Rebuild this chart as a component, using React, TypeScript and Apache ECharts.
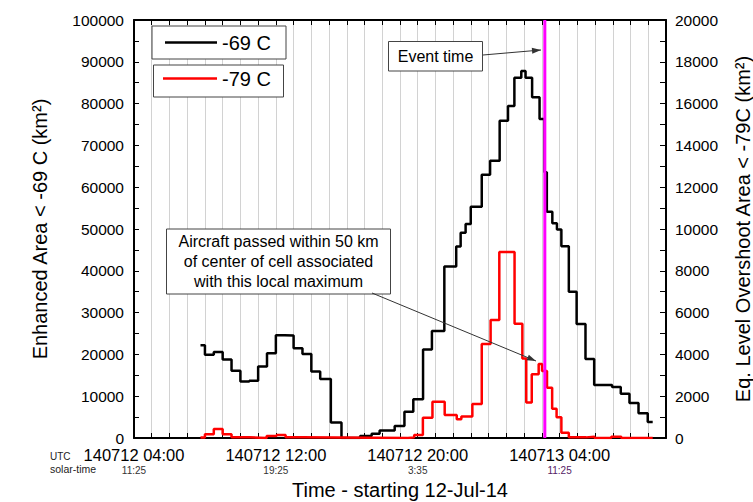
import React, { useEffect, useRef } from "react";
import * as echarts from "echarts";

// ---- data (time in hours since 12-Jul-14 00:00 UTC) ----
const X_MIN = 4;
const X_MAX = 34;
const LABEL_HOURS = [4, 12, 20, 28];
const UTC_LABELS = ["140712 04:00", "140712 12:00", "140712 20:00", "140713 04:00"];
const SOLAR_LABELS = ["11:25", "19:25", "3:35", "11:25"];

const SERIES_NAMES = ["-69 C", "-79 C"];

const BLACK_TIMES = [
  7.75, 8.0, 8.5, 9.0, 9.5, 10.0, 10.5, 11.0, 11.5, 12.0, 12.5, 13.0, 13.5, 14.0, 14.5,
  15.1, 15.7, 16.75, 17.4, 17.85, 18.7, 19.25, 19.75, 20.3, 20.8, 21.5, 22.17, 22.42, 22.7,
  22.99, 23.61, 24.08, 24.62, 25.09, 25.45, 25.84, 26.08, 26.45, 26.87, 27.15, 27.28, 27.59,
  27.85, 28.1, 28.52, 28.96, 29.46, 29.95, 30.96, 31.45, 31.94, 32.45, 32.97, 33.25,
];
const BLACK_VALUES = [
  22200, 19900, 20600, 18800, 16100, 13500, 13700, 17100, 20300, 24600, 24500, 21500, 20100, 15900, 14100,
  3700, 0, 500, 1000, 1800, 2900, 6300, 9300, 21200, 25600, 41000, 45800, 49100, 51200,
  55300, 63000, 66300, 75900, 79400, 86200, 87800, 86200, 81500, 76300, 63600, 54100, 51400,
  49900, 45900, 35000, 27300, 18900, 12700, 12200, 10600, 8400, 5900, 3800, 3800,
];

const RED_TIMES = [
  7.75, 8.0, 8.5, 9.0, 9.5, 10.5, 11.48, 12.04, 12.55, 13.45, 19.45, 19.8, 20.29, 20.83,
  21.52, 22.2, 22.46, 23.08, 23.61, 24.11, 24.6, 25.46, 25.9, 26.12, 26.43, 26.82, 27.01,
  27.29, 27.58, 27.83, 28.1, 28.52, 29.5, 29.97, 30.91, 31.48, 33.25,
];
const RED_VALUES = [
  20, 180, 430, 180, 30, 0, 100, 140, 30, 0, 30, 140, 970, 1740,
  1100, 900, 1030, 1630, 4500, 5650, 8900, 5470, 3800, 1700, 3050, 3540, 3200,
  2400, 1400, 990, 250, 30, 60, 0, 60, 0, 0,
];

const EVENT_TIME = 27.167;

const Y_LEFT = { min: 0, max: 100000, interval: 10000 };
const Y_RIGHT = { min: 0, max: 20000, interval: 2000 };

const FONT = "'Liberation Sans', Arial, Helvetica, sans-serif";

function arrowHead(x1: number, y1: number, x2: number, y2: number, len = 9, half = 3) {
  const dx = x2 - x1;
  const dy = y2 - y1;
  const d = Math.sqrt(dx * dx + dy * dy);
  const ux = dx / d;
  const uy = dy / d;
  const bx = x2 - ux * len;
  const by = y2 - uy * len;
  return [
    [x2, y2],
    [bx - uy * half, by + ux * half],
    [bx + uy * half, by - ux * half],
  ];
}

function txt(x: number, y: number, text: string, size: number, opts: any = {}) {
  const align = opts.align || "left";
  return {
    type: "text",
    x,
    y,
    z: 20,
    style: {
      text,
      fontSize: size,
      fontFamily: FONT,
      fill: opts.fill || "#000",
      align,
      textAlign: align,
      verticalAlign: "middle",
      textVerticalAlign: "middle",
      lineHeight: opts.lineHeight,
    },
  };
}

export default function App() {
  const ref = useRef<HTMLDivElement>(null);

  useEffect(() => {
    if (!ref.current) return;
    const chart = echarts.init(ref.current, undefined, { renderer: "svg" });

    const black = BLACK_TIMES.map((t, i) => [t, BLACK_VALUES[i]]);
    const red = RED_TIMES.map((t, i) => [t, RED_VALUES[i]]);

    const evA = [483, 55];
    const evB = [541, 50];
    const acA = [372, 293];
    const acB = [536, 361];

    const option: any = {
      animation: false,
      backgroundColor: "#fff",
      grid: { left: 134, right: 87, top: 20, bottom: 64, containLabel: false, outerBoundsMode: "none" },
      xAxis: [
        {
          type: "value",
          min: X_MIN,
          max: X_MAX,
          interval: 1,
          position: "bottom",
          name: "Time - starting 12-Jul-14",
          nameLocation: "middle",
          nameGap: 42,
          nameTextStyle: { fontSize: 20, fontFamily: FONT, color: "#000" },
          axisLine: { show: true, onZero: false, lineStyle: { color: "#000", width: 2 } },
          axisTick: { show: true, inside: true, length: 5, lineStyle: { color: "#000", width: 1 } },
          splitLine: { show: true, lineStyle: { color: "#d2d2d2", width: 1 } },
          axisLabel: {
            show: true,
            margin: 7,
            formatter: (v: number) => {
              const i = LABEL_HOURS.findIndex((h) => Math.abs(h - v) < 1e-6);
              if (i < 0) return "";
              return `{u|${UTC_LABELS[i]}}\n{${i === 3 ? "p" : "s"}|${SOLAR_LABELS[i]}}`;
            },
            rich: {
              u: { fontSize: 16.5, fontFamily: FONT, color: "#000", lineHeight: 19 },
              s: { fontSize: 10, fontFamily: FONT, color: "#333", lineHeight: 12 },
              p: { fontSize: 10, fontFamily: FONT, color: "#552266", lineHeight: 12 },
            },
          },
        },
        {
          type: "value",
          min: X_MIN,
          max: X_MAX,
          interval: 1,
          position: "top",
          axisLine: { show: true, onZero: false, lineStyle: { color: "#000", width: 2 } },
          axisTick: { show: true, inside: true, length: 5, lineStyle: { color: "#000", width: 1 } },
          splitLine: { show: false },
          axisLabel: { show: false },
        },
      ],
      yAxis: [
        {
          type: "value",
          position: "left",
          min: Y_LEFT.min,
          max: Y_LEFT.max,
          interval: Y_LEFT.interval,
          name: "Enhanced Area < -69 C (km²)",
          nameLocation: "middle",
          nameRotate: 90,
          nameGap: 84,
          nameTextStyle: { fontSize: 20, fontFamily: FONT, color: "#000" },
          axisLine: { show: true, onZero: false, lineStyle: { color: "#000", width: 2 } },
          axisTick: { show: true, inside: true, length: 5, lineStyle: { color: "#000", width: 1 } },
          minorTick: { show: true, splitNumber: 2, length: 5, lineStyle: { color: "#000", width: 1 } },
          splitLine: { show: false },
          axisLabel: { fontSize: 15.5, fontFamily: FONT, color: "#000", margin: 10, formatter: (v: number) => String(v) },
        },
        {
          type: "value",
          position: "right",
          min: Y_RIGHT.min,
          max: Y_RIGHT.max,
          interval: Y_RIGHT.interval,
          name: "Eq. Level Overshoot Area < -79C (km²)",
          nameLocation: "middle",
          nameRotate: 90,
          nameGap: 67,
          nameTextStyle: { fontSize: 20, fontFamily: FONT, color: "#000" },
          axisLine: { show: true, onZero: false, lineStyle: { color: "#000", width: 2 } },
          axisTick: { show: true, inside: true, length: 6, lineStyle: { color: "#000", width: 1 } },
          minorTick: { show: true, splitNumber: 2, length: 6, lineStyle: { color: "#000", width: 1 } },
          splitLine: { show: false },
          axisLabel: { fontSize: 15.5, fontFamily: FONT, color: "#000", margin: 9, formatter: (v: number) => String(v) },
        },
      ],
      series: [
        {
          name: SERIES_NAMES[0],
          type: "line",
          xAxisIndex: 0,
          yAxisIndex: 0,
          step: "end",
          showSymbol: false,
          symbol: "none",
          data: black,
          lineStyle: { color: "#000", width: 2.5 },
          z: 3,
        },
        {
          name: SERIES_NAMES[1],
          type: "line",
          xAxisIndex: 0,
          yAxisIndex: 1,
          step: "end",
          showSymbol: false,
          symbol: "none",
          data: red,
          lineStyle: { color: "#ff0000", width: 2.5 },
          z: 4,
        },
        {
          name: "Event time",
          type: "line",
          xAxisIndex: 0,
          yAxisIndex: 0,
          showSymbol: false,
          symbol: "none",
          data: [
            [EVENT_TIME, Y_LEFT.min],
            [EVENT_TIME, Y_LEFT.max],
          ],
          lineStyle: { color: "#ff00ff", width: 3 },
          z: 5,
        },
      ],
      graphic: [
        // legend boxes
        { type: "rect", z: 19, shape: { x: 152, y: 26, width: 134, height: 33 }, style: { fill: "#fff", stroke: "#444", lineWidth: 1 } },
        { type: "line", z: 20, shape: { x1: 165, y1: 42.5, x2: 217, y2: 42.5 }, style: { stroke: "#000", lineWidth: 2.5 } },
        txt(222, 43, SERIES_NAMES[0], 20),
        { type: "rect", z: 19, shape: { x: 153.5, y: 65, width: 130, height: 32 }, style: { fill: "#fff", stroke: "#444", lineWidth: 1 } },
        { type: "line", z: 20, shape: { x1: 163, y1: 78.5, x2: 217, y2: 78.5 }, style: { stroke: "#ff0000", lineWidth: 2.5 } },
        txt(222, 79, SERIES_NAMES[1], 20),
        // event time
        { type: "rect", z: 19, shape: { x: 388.5, y: 41.5, width: 94, height: 29.5 }, style: { fill: "#fff", stroke: "#444", lineWidth: 1 } },
        txt(435.5, 56.5, "Event time", 16, { align: "center" }),
        { type: "line", z: 20, shape: { x1: evA[0], y1: evA[1], x2: evB[0], y2: evB[1] }, style: { stroke: "#333", lineWidth: 1 } },
        { type: "polygon", z: 20, shape: { points: arrowHead(evA[0], evA[1], evB[0], evB[1]) }, style: { fill: "#333" } },
        // aircraft note
        { type: "rect", z: 19, shape: { x: 166.5, y: 229, width: 224, height: 65 }, style: { fill: "#fff", stroke: "#444", lineWidth: 1 } },
        txt(278.5, 261.5, "Aircraft passed within 50 km\nof center of cell associated\nwith this local maximum", 16, { align: "center", lineHeight: 20 }),
        { type: "line", z: 20, shape: { x1: acA[0], y1: acA[1], x2: acB[0], y2: acB[1] }, style: { stroke: "#333", lineWidth: 1 } },
        { type: "polygon", z: 20, shape: { points: arrowHead(acA[0], acA[1], acB[0], acB[1]) }, style: { fill: "#333" } },
        // axis captions
        txt(50, 456, "UTC", 10, { fill: "#222" }),
        txt(50, 469, "solar-time", 10.5, { fill: "#222" }),
      ],
    };

    chart.setOption(option);
    return () => chart.dispose();
  }, []);

  return (
    <div
      ref={ref}
      style={{ position: "fixed", left: 0, top: 0, width: 753, height: 502, background: "#fff" }}
    />
  );
}
